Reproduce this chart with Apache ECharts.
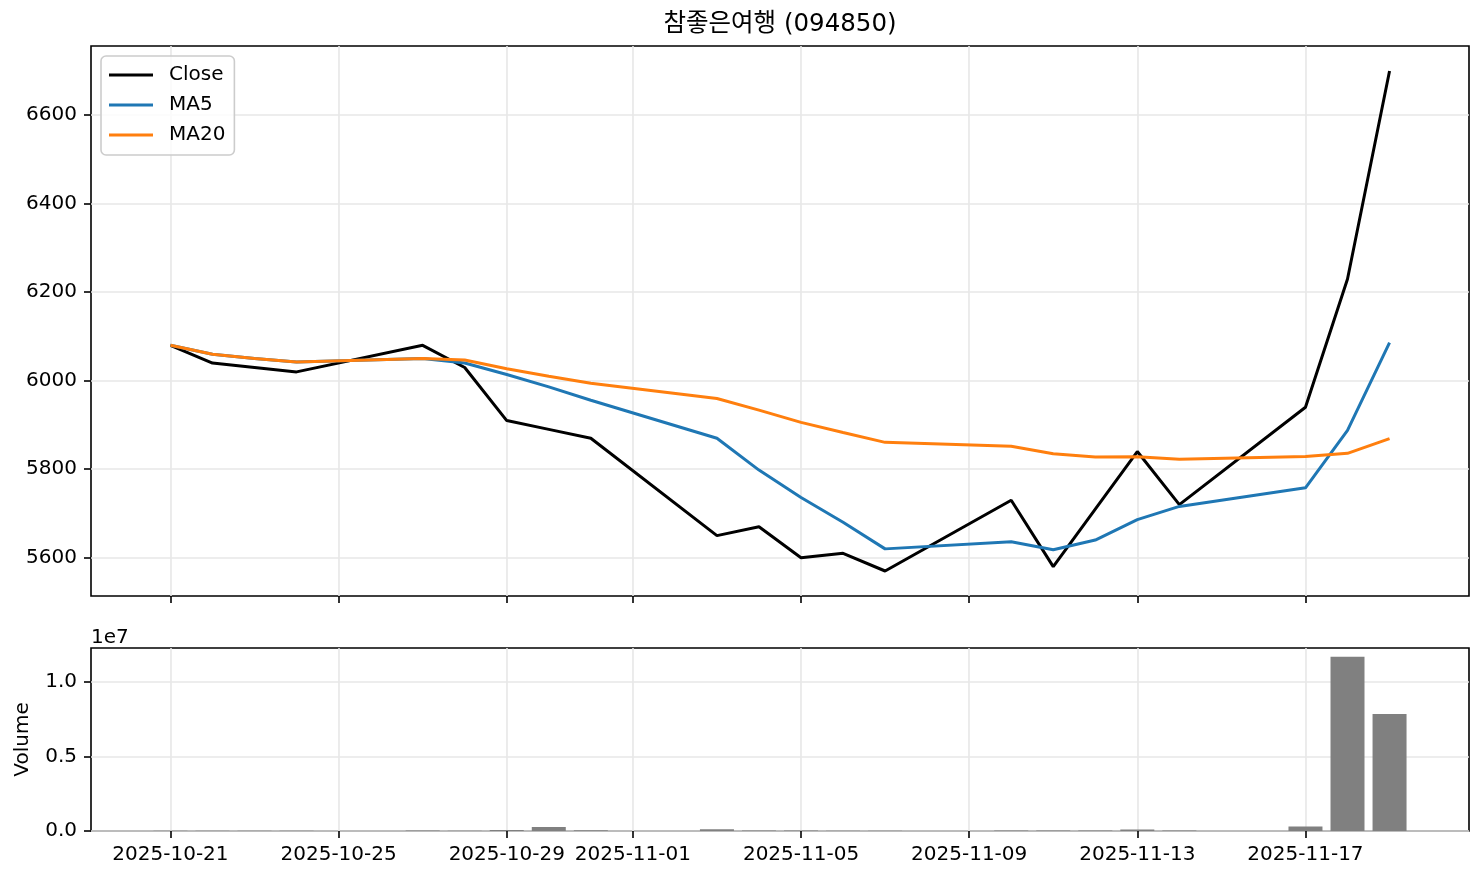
<!DOCTYPE html>
<html><head><meta charset="utf-8">
<script src="https://cdn.jsdelivr.net/npm/echarts@6/dist/echarts.min.js"></script>
<style>html,body{margin:0;padding:0;background:#fff}#c{width:1484px;height:881px}</style>
</head><body><div id="c"></div>
<script>
const chartTitle = '참좋은여행 (094850)';
const dates = ['2025-10-21','2025-10-22','2025-10-23','2025-10-24','2025-10-27','2025-10-28','2025-10-29','2025-10-30','2025-10-31',
  '2025-11-03','2025-11-04','2025-11-05','2025-11-06','2025-11-07','2025-11-10','2025-11-11','2025-11-12','2025-11-13','2025-11-14',
  '2025-11-17','2025-11-18','2025-11-19'];
const closeVals = [6080,6040,6030,6020,6080,6030,5910,5890,5870,5650,5670,5600,5610,5570,5730,5580,5710,5840,5720,5940,6230,6700];
const ma5Vals = [6080,6060,6050,6042.5,6050,6040,6014,5986,5956,5870,5798,5736,5680,5620,5636,5618,5640,5686,5716,5758,5888,6086];
const ma20Vals = [6080,6060,6050,6042.5,6050,6046.7,6027.1,6010,5994.4,5960,5933.6,5905.8,5883.1,5860.7,5852,5835,5827.6,5828.3,5822.6,5828.5,5836,5869];
const volumeVals = [20000,15000,12000,10000,30000,25000,60000,270000,50000,110000,40000,30000,25000,20000,40000,35000,30000,100000,40000,300000,11700000,7850000];
const xTickLabels = ['2025-10-21','2025-10-25','2025-10-29','2025-11-01','2025-11-05','2025-11-09','2025-11-13','2025-11-17'];
const priceTicks = [5600,5800,6000,6200,6400,6600];
const volumeTicks = [0,5000000,10000000];
const volumeLabels = ['0.0','0.5','1.0'];

const base = Date.UTC(2025,9,21);
function dayNum(s){const p=s.split('-').map(Number);return (Date.UTC(p[0],p[1]-1,p[2])-base)/864e5;}
const xs = dates.map(dayNum);
const xTickVals = xTickLabels.map(dayNum);
const xMin = -1.89, xMax = 30.89;
const FONT = "'DejaVu Sans', 'Noto Sans CJK KR', sans-serif";
const AX = '#000';
const gridColor = '#e7e7e7';

function xAxisCfg(idx, showLabels){
  return {
    type:'value', gridIndex:idx, min:xMin, max:xMax,
    axisLine:{show:false, onZero:false},
    axisTick:{show:true, length:7, lineStyle:{color:AX, width:1.6}, customValues:xTickVals},
    axisLabel:{show:showLabels, customValues:xTickVals, margin:14, color:'#000', fontSize:20, fontFamily:FONT,
      formatter:(v)=>{const i=xTickVals.indexOf(v);return i>=0?xTickLabels[i]:'';}},
    splitLine:{show:true, lineStyle:{color:gridColor, width:1.6}, customValues:xTickVals}
  };
}

const chart = echarts.init(document.getElementById('c'), null, {renderer:'canvas'});
chart.setOption({
  animation:false,
  backgroundColor:'#fff',
  textStyle:{fontFamily:FONT},
  grid:[
    {left:91, right:15, top:46, height:550, show:true, borderColor:AX, borderWidth:1.6, backgroundColor:'transparent'},
    {left:91, right:15, top:648, height:183, show:true, borderColor:AX, borderWidth:1.6, backgroundColor:'transparent'}
  ],
  xAxis:[xAxisCfg(0,false), xAxisCfg(1,true)],
  yAxis:[
    {type:'value', gridIndex:0, min:5513.5, max:6756.5,
      axisLine:{show:false, onZero:false},
      axisTick:{show:true, length:7, lineStyle:{color:AX, width:1.6}, customValues:priceTicks},
      axisLabel:{customValues:priceTicks, margin:14, color:'#000', fontSize:20, fontFamily:FONT, formatter:(v)=>String(v)},
      splitLine:{show:true, lineStyle:{color:gridColor, width:1.6}, customValues:priceTicks}},
    {type:'value', gridIndex:1, min:0, max:12285000,
      name:'Volume', nameLocation:'middle', nameRotate:90, nameGap:58,
      nameTextStyle:{color:'#000', fontSize:20, fontFamily:FONT},
      axisLine:{show:false, onZero:false},
      axisTick:{show:true, length:7, lineStyle:{color:AX, width:1.6}, customValues:volumeTicks},
      axisLabel:{customValues:volumeTicks, margin:14, color:'#000', fontSize:20, fontFamily:FONT,
        formatter:(v)=>{const i=volumeTicks.indexOf(v);return i>=0?volumeLabels[i]:'';}},
      splitLine:{show:true, lineStyle:{color:gridColor, width:1.6}, customValues:volumeTicks}}
  ],
  legend:{
    orient:'vertical', left:101, top:56,
    data:['Close','MA5','MA20'],
    icon:'rect',
    itemWidth:44, itemHeight:3, itemGap:10,
    padding:[9,9,10,8],
    backgroundColor:'rgba(255,255,255,0.8)', borderColor:'#cccccc', borderWidth:1.6, borderRadius:5,
    textStyle:{fontSize:20, lineHeight:20, color:'#000', fontFamily:FONT, padding:[0,0,0,11]}
  },
  graphic:[
    {type:'text', x:780, y:25, style:{text:chartTitle, textAlign:'center', textVerticalAlign:'middle', font:"24.5px "+FONT, fill:'#000'}},
    {type:'text', x:91, y:638, style:{text:'1e7', textAlign:'left', textVerticalAlign:'middle', font:"20px "+FONT, fill:'#000'}}
  ],
  series:[
    {name:'Close', type:'line', xAxisIndex:0, yAxisIndex:0, symbol:'none', data:xs.map((x,i)=>[x,closeVals[i]]),
      lineStyle:{color:'#000', width:3}, itemStyle:{color:'#000'}},
    {name:'MA5', type:'line', xAxisIndex:0, yAxisIndex:0, symbol:'none', data:xs.map((x,i)=>[x,ma5Vals[i]]),
      lineStyle:{color:'#1f77b4', width:3}, itemStyle:{color:'#1f77b4'}},
    {name:'MA20', type:'line', xAxisIndex:0, yAxisIndex:0, symbol:'none', data:xs.map((x,i)=>[x,ma20Vals[i]]),
      lineStyle:{color:'#ff7f0e', width:3}, itemStyle:{color:'#ff7f0e'}},
    {name:'Volume', type:'bar', xAxisIndex:1, yAxisIndex:1, barWidth:34, data:xs.map((x,i)=>[x,volumeVals[i]]),
      itemStyle:{color:'#808080'}}
  ]
});
</script></body></html>
